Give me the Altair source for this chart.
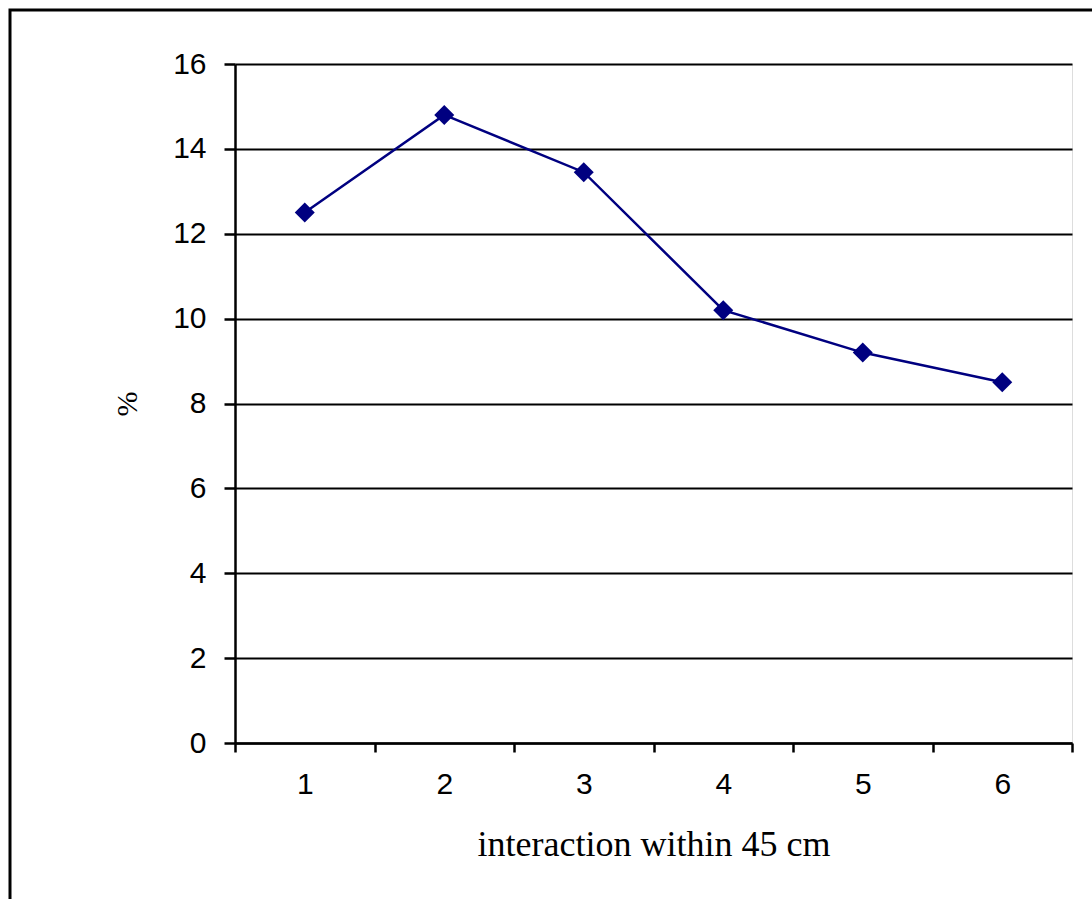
import altair as alt
import pandas as pd

categories = ["1", "2", "3", "4", "5", "6"]
values = [12.5, 14.8, 13.45, 10.2, 9.2, 8.5]

df = pd.DataFrame({"cat": categories, "val": values})

W, H = 837, 679
PL, PT = 235, 64

x = alt.X("cat:O", title="interaction within 45 cm",
          scale=alt.Scale(type="band", paddingInner=0, paddingOuter=0),
          axis=alt.Axis(labelAngle=0, tickBand="extent", domainColor="black", domainWidth=2.5,
                        tickColor="black", tickWidth=2.5, tickSize=9, labelPadding=17,
                        labelFont="Liberation Sans", labelFontSize=30, labelColor="black",
                        titleFont="Liberation Serif", titleFontSize=36, titleFontWeight="normal",
                        titleColor="black", titleX=W / 2, titleY=112, titleBaseline="alphabetic",
                        titleAlign="center", grid=False))
y = alt.Y("val:Q", title="%",
          scale=alt.Scale(domain=[0, 16], nice=False),
          axis=alt.Axis(values=[0, 2, 4, 6, 8, 10, 12, 14, 16], domainColor="black", domainWidth=2.5,
                        tickColor="black", tickWidth=2.5, tickSize=11, labelPadding=18,
                        labelFont="Liberation Sans", labelFontSize=30, labelColor="black",
                        titleFont="Liberation Serif", titleFontSize=30, titleFontWeight="normal",
                        titleColor="black", titleX=127 - PL, titleY=H / 2, titleAngle=-90,
                        titleBaseline="middle", titleAlign="center",
                        grid=True, gridColor="black", gridWidth=2, gridOpacity=1))

line = alt.Chart(df).mark_line(color="#000080", strokeWidth=2.5).encode(x=x, y=y)
pts = alt.Chart(df).mark_point(shape="diamond", filled=True, color="#000080", size=400, opacity=1).encode(x=x, y=y)

border = alt.Chart(pd.DataFrame({"a": [0]})).mark_rect(
    fill=None, stroke="black", strokeWidth=3, clip=False
).encode(
    x=alt.value(10 - PL), y=alt.value(10 - PT),
    x2=alt.value(2000), y2=alt.value(2000)
)

chart = alt.layer(line, pts, border).properties(
    width=W, height=H,
    autosize=alt.AutoSizeParams(type="none"),
    padding={"left": PL, "top": PT, "right": 1092 - PL - W, "bottom": 899 - PT - H},
).configure_view(stroke=None).configure(background="white")

chart.save("out.html", embed_options={"renderer": "svg", "actions": False})
